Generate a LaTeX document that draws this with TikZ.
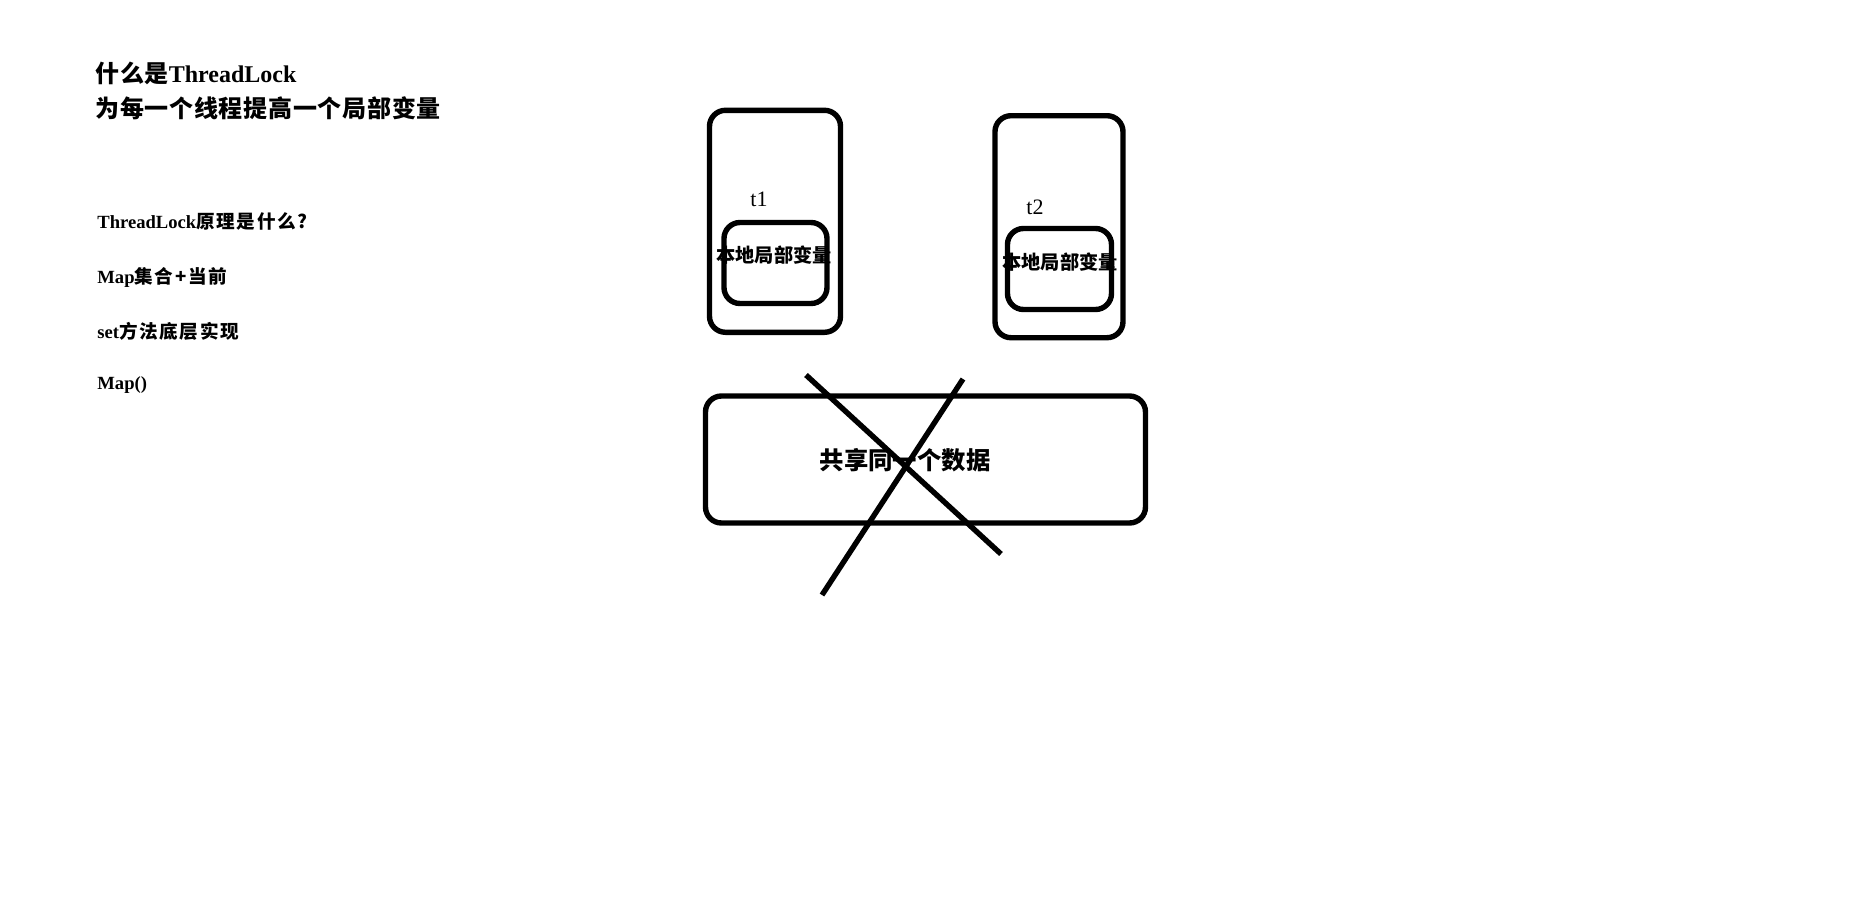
\documentclass[tikz,border=0pt]{standalone}
\usepackage{fontspec}
\setmainfont{Liberation Serif}
\newfontfamily\cjk{Noto Sans CJK SC}
\newfontfamily\cjkt{Noto Sans CJK SC}[LetterSpace=3]
\newfontfamily\cjkw{Noto Sans CJK SC}[LetterSpace=9]
\begin{document}
\begin{tikzpicture}[x=0.5pt,y=-0.5pt,
  box/.style={draw=black,line width=2.7pt,rounded corners=8pt,inner sep=0pt},
  cross/.style={line width=2.7pt},
  title/.style={anchor=base west,inner sep=0pt,font=\fontsize{12}{14}\selectfont\bfseries},
  note/.style={anchor=base west,inner sep=0pt,font=\fontsize{9.3}{11}\selectfont\bfseries},
  lbl/.style={inner sep=0pt,font=\fontsize{11}{13}\selectfont},
  inlbl/.style={inner sep=0pt,font=\fontsize{9.6}{11}\selectfont\bfseries\cjk},
]
\useasboundingbox (0,0) rectangle (1876,917);
\fill[white] (0,0) rectangle (1876,917);

% left texts
\node[title] (h1) at (95,82) {{\cjkt 什么是}ThreadLock};
\node[title] (h2) at (95,117) {\cjkt 为每一个线程提高一个局部变量};
\node[note] (n1) at (97,228) {ThreadLock{\cjkw 原理是什么?}};
\node[note] (n2) at (97,283) {Map{\cjkw 集合+当前}};
\node[note] (n3) at (97,338) {set{\cjkw 方法底层实现}};
\node[note] (n4) at (97,389) {Map()};

% thread boxes
\node[box,minimum width=65.5pt,minimum height=111pt] (t1box) at (775,221.3) {};
\node[box,minimum width=51.5pt,minimum height=40.5pt] (t1in) at (775.5,263) {};
\node[lbl] (t1) at (759,199) {t1};
\node[inlbl] (t1txt) at (774,255) {本地局部变量};

\node[box,minimum width=64pt,minimum height=111pt] (t2box) at (1059,226.7) {};
\node[box,minimum width=52pt,minimum height=40.5pt] (t2in) at (1059.5,269) {};
\node[lbl] (t2) at (1035,207) {t2};
\node[inlbl] (t2txt) at (1060,262) {本地局部变量};

% shared box
\node[box,minimum width=220pt,minimum height=63.5pt] (shared) at (925.5,459.5) {};
\node[inner sep=0pt,font=\fontsize{12.2}{14}\selectfont\bfseries\cjk] (stxt) at (905,460) {共享同一个数据};

% cross
\coordinate (a1) at (806,375);
\coordinate (a2) at (1001,554);
\coordinate (b1) at (963,379);
\coordinate (b2) at (822,595);
\draw[cross] (a1) -- (a2);
\draw[cross] (b1) -- (b2);
\end{tikzpicture}
\end{document}
